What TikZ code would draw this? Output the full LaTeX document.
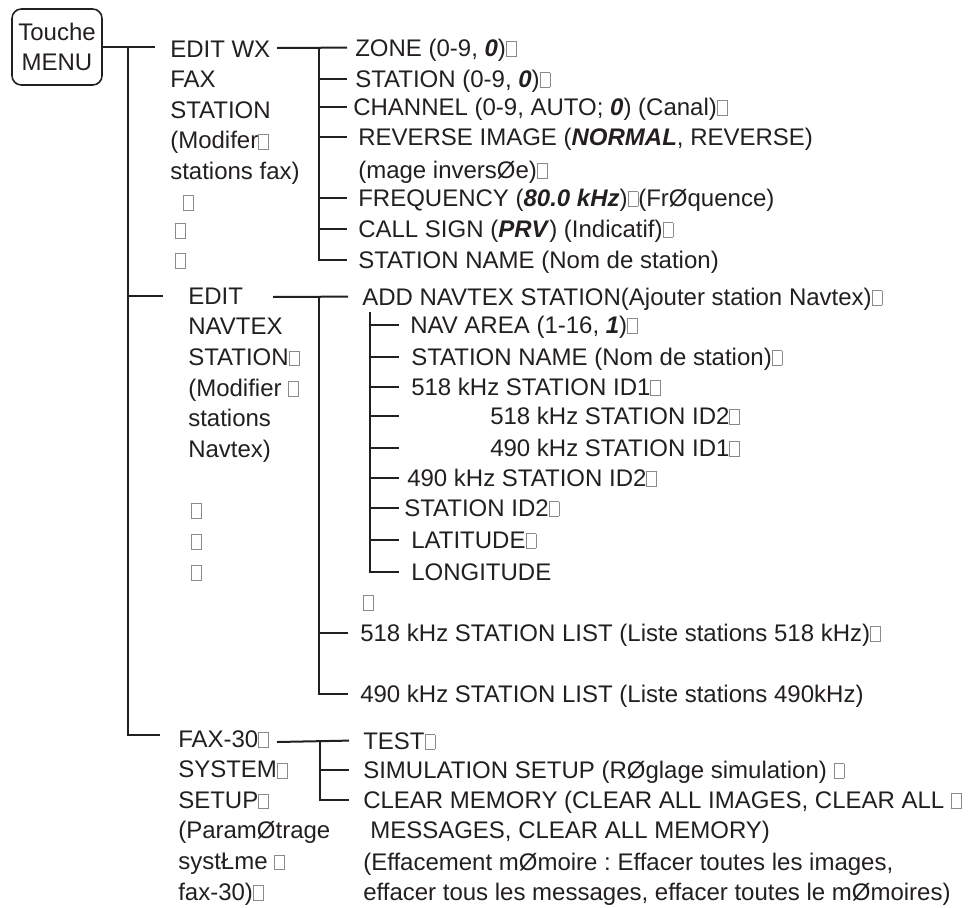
\documentclass[tikz,border=0pt]{standalone}
\usepackage{fontspec}
\setmainfont{Liberation Sans}
\usepackage{xcolor}
\usepackage{tikz}
\usetikzlibrary{positioning}
\definecolor{ink}{HTML}{231F20}
\definecolor{tofugray}{HTML}{8A8A8A}
\newcommand{\tofu}{{\color{tofugray}\setlength{\fboxsep}{0pt}\setlength{\fboxrule}{0.5pt}\fbox{\rule{0pt}{10.5pt}\hspace{7pt}}}}
\newcommand{\val}[1]{\textbf{\textit{#1}}}
\frenchspacing

\begin{document}
\begin{tikzpicture}[
    x=0.75pt, y=-0.75pt,
    every node/.style={font=\fontsize{18}{22.5}\selectfont, text=ink},
    item/.style={anchor=base west, inner sep=0pt, text height=12.6pt, text depth=0pt},
    key/.style={draw=ink, line width=1.2pt, rounded corners=7pt, minimum width=67.5pt, minimum height=57pt, align=center, inner sep=0pt},
    tree/.style={draw=ink, line width=1.5pt}
]
    \useasboundingbox (0,0) rectangle (971,907);

    % Nodes
    \node[key] (menu) at (57,47) {Touche\\MENU};

    \foreach \s [count=\i] in {EDIT WX, FAX, STATION, {(Modifer\tofu}, {stations fax)}}
        \node[item] (wx\i) at (170,26.5+30.5*\i) {\s};
    \node[item] (wxg1) at (183,210) {\tofu};
    \node[item] (wxg2) at (175,238) {\tofu};
    \node[item] (wxg3) at (175,268) {\tofu};

    \foreach \s [count=\i] in {EDIT, NAVTEX, {STATION\tofu}, {(Modifier \tofu}, stations, {Navtex)}}
        \node[item] (nv\i) at (188,273.3+30.7*\i) {\s};
    \node[item] (nvg1) at (191,518) {\tofu};
    \node[item] (nvg2) at (191,549) {\tofu};
    \node[item] (nvg3) at (191,580) {\tofu};

    \foreach \s [count=\i] in {{FAX-30\tofu}, {SYSTEM\tofu}, {SETUP\tofu}, {(ParamØtrage}, {systŁme \tofu}, {fax-30)\tofu}}
        \node[item] (fx\i) at (178,716.4+30.6*\i) {\s};

    % EDIT WX FAX STATION
    \node[item] (zone)   at (355,56)  {ZONE (0-9, \val{0})\tofu};
    \node[item] (wxstn)  at (355,87)  {STATION (0-9, \val{0})\tofu};
    \node[item] (chan)   at (353,115) {CHANNEL (0-9, AUTO; \val{0}) (Canal)\tofu};
    \node[item] (rev)    at (358,145) {REVERSE IMAGE (\val{NORMAL}, REVERSE)};
    \node[item] (revb)   at (358,178) {(mage inversØe)\tofu};
    \node[item] (freq)   at (358,206) {FREQUENCY (\val{80.0 kHz})\tofu(FrØquence)};
    \node[item] (call)   at (358,237) {CALL SIGN (\val{PRV}) (Indicatif)\tofu};
    \node[item] (wxname) at (358,268) {STATION NAME (Nom de station)};

    % EDIT NAVTEX STATION
    \node[item] (add)    at (362,305) {ADD NAVTEX STATION(Ajouter station Navtex)\tofu};
    \node[item] (nav)    at (410,333) {NAV AREA (1-16, \val{1})\tofu};
    \node[item] (nvname) at (411,365) {STATION NAME (Nom de station)\tofu};
    \node[item] (ida)    at (411,395) {518 kHz STATION ID1\tofu};
    \node[item] (idb)    at (490,424) {518 kHz STATION ID2\tofu};
    \node[item] (idc)    at (490,456) {490 kHz STATION ID1\tofu};
    \node[item] (idd)    at (407,486) {490 kHz STATION ID2\tofu};
    \node[item] (ide)    at (404,516) {STATION ID2\tofu};
    \node[item] (lat)    at (411,548) {LATITUDE\tofu};
    \node[item] (lon)    at (411,580) {LONGITUDE};
    \node[item] (nvgap)  at (363,610) {\tofu};
    \node[item] (lista)  at (360,641) {518 kHz STATION LIST (Liste stations 518 kHz)\tofu};
    \node[item] (listb)  at (360,702) {490 kHz STATION LIST (Liste stations 490kHz)};

    % FAX-30 SYSTEM SETUP
    \node[item] (test)   at (363,749) {TEST\tofu};
    \node[item] (sim)    at (363,778) {SIMULATION SETUP (RØglage simulation) \tofu};
    \node[item] (clear)  at (363,808) {CLEAR MEMORY (CLEAR ALL IMAGES, CLEAR ALL \tofu};
    \node[item] (clearb) at (370,838) {MESSAGES, CLEAR ALL MEMORY)};
    \node[item] (effa)   at (363,870) {(Effacement mØmoire : Effacer toutes les images,};
    \node[item] (effb)   at (363,900) {effacer tous les messages, effacer toutes le mØmoires)};

    % Paths
    \coordinate (trunk) at (128,47);
    \coordinate (b1) at (155,47);
    \coordinate (b2) at (163,296);
    \coordinate (b3) at (160,735);
    \draw[tree] (menu.east) -- (b1);
    \draw[tree] (trunk) |- (b3);
    \draw[tree] (trunk |- b2) -- (b2);

    \coordinate (wxS) at (277,48);
    \coordinate (wxT) at (319,48);
    \coordinate (wxE) at (347,0);
    \draw[tree] (wxS) -- (wxE |- zone.west);
    \draw[tree] (wxT) |- (wxE |- wxname.west);
    \foreach \n in {wxstn, chan, rev, freq, call}
        \draw[tree] (wxT |- \n.west) -- (wxE |- \n.west);

    \coordinate (nvS) at (273,297);
    \coordinate (nvT) at (319,297);
    \coordinate (nvE) at (348,0);
    \draw[tree] (nvS) -- (nvE |- add.west);
    \draw[tree] (nvT) |- (nvE |- listb.west);
    \draw[tree] (nvT |- lista.west) -- (nvE |- lista.west);

    \coordinate (subT) at (370,312);
    \coordinate (subE) at (399,0);
    \draw[tree] (subT) |- (subE |- lon.west);
    \foreach \n in {nav, nvname, ida, idb, idc, idd, ide, lat}
        \draw[tree] (subT |- \n.west) -- (subE |- \n.west);

    \coordinate (fxS) at (277,742);
    \coordinate (fxT) at (320,742);
    \coordinate (fxE) at (349,0);
    \draw[tree] (fxS) -- (fxE |- test.west);
    \draw[tree] (fxT) |- (fxE |- clear.west);
    \draw[tree] (fxT |- sim.west) -- (fxE |- sim.west);
\end{tikzpicture}
\end{document}
